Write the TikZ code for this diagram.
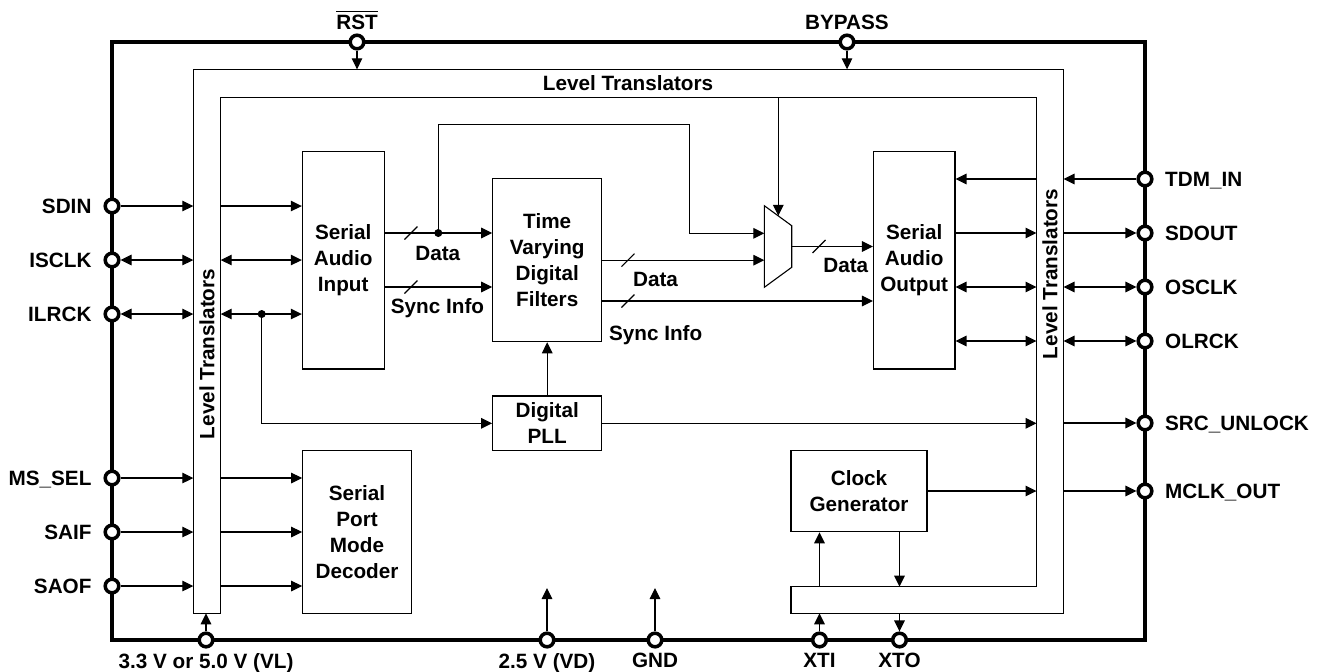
\documentclass[tikz,border=0pt]{standalone}
\usepackage{fontspec}
\setmainfont{Liberation Sans}
\usetikzlibrary{arrows.meta,positioning}

\begin{document}
\begin{tikzpicture}[
    x=0.5pt, y=-0.5pt,
    font=\fontsize{10.35pt}{12.9pt}\selectfont\bfseries,
    block/.style={draw, line width=0.55pt, inner sep=0pt, align=center},
    pin/.style={draw, circle, line width=1.75pt, fill=white, minimum size=6.8pt, inner sep=0pt},
    pinlabel/.style={inner sep=1pt, text depth=0pt},
    sig/.style={inner sep=1pt, text depth=0pt},
    jdot/.style={circle, fill, minimum size=4pt, inner sep=0pt},
    wire/.style={line width=0.55pt},
    arrow/.style={-{Triangle[length=5.5pt, width=5.3pt]}, line width=0.55pt},
    dblarrow/.style={{Triangle[length=5.5pt, width=5.3pt]}-{Triangle[length=5.5pt, width=5.3pt]}, line width=0.55pt},
    bus/.style={line width=1.9pt}
]
\useasboundingbox (0,0) rectangle (1321,671);

% Level translator ring
\coordinate (lto-nw) at (193.3,69.3);
\coordinate (lto-se) at (1063.5,613.3);
\coordinate (lti-nw) at (220.7,97.3);
\coordinate (lti-se) at (1036.5,586.7);
\coordinate (lts-sw) at (791,613.3);
\draw[wire] (lto-nw |- lto-se) -- (lto-nw) -| (lto-se) -- (lts-sw) |- (lti-se) |- (lti-nw) -- (lti-nw |- lto-se) -- cycle;

\node (lt-top) at (628,83.3) {Level Translators};
\node[rotate=90] (lt-left) at (207,354) {Level Translators};
\node[rotate=90] (lt-right) at (1050,274) {Level Translators};

% Blocks
\node[block, minimum width=40.85pt, minimum height=108.65pt] (sai) at (343.2,260.3) {Serial\\Audio\\Input};
\node[block, minimum width=54.5pt, minimum height=81.5pt] (tvdf) at (547.2,260.2) {Time\\Varying\\Digital\\Filters};
\node[block, minimum width=40.75pt, minimum height=108.65pt] (sao) at (914.2,260.3) {Serial\\Audio\\Output};
\node[block, minimum width=54.5pt, minimum height=27.35pt] (dpll) at (547.2,423.3) {Digital\\PLL};
\node[block, minimum width=54.35pt, minimum height=81.3pt] (spmd) at (357,532) {Serial\\Port\\Mode\\Decoder};
\node[block, minimum width=68pt, minimum height=40.8pt] (clkgen) at (859,491) {Clock\\Generator};

% Output multiplexer
\coordinate (mux-tl) at (764.3,205.7);
\coordinate (mux-tr) at (791.7,225.7);
\coordinate (mux-br) at (791.7,267.3);
\coordinate (mux-bl) at (764.3,287.3);
\draw[wire] (mux-tl) -- (mux-tr) -- (mux-br) -- (mux-bl) -- cycle;
\coordinate (mux-in1) at (764.3,233.3);
\coordinate (mux-in2) at (764.3,260.2);
\coordinate (mux-out) at (791.7,246.5);
\coordinate (mux-sel) at (778.3,215.9);

% Package outline and pins
\draw[bus] (112,42) rectangle (1145,640);

\node[pin] (sdin)      at (112,206) {};
\node[pin] (isclk)     at (112,260) {};
\node[pin] (ilrck)     at (112,314) {};
\node[pin] (mssel)     at (112,478) {};
\node[pin] (saif)      at (112,532) {};
\node[pin] (saof)      at (112,586) {};
\node[pin] (tdmin)     at (1145,179) {};
\node[pin] (sdout)     at (1145,233) {};
\node[pin] (osclk)     at (1145,287) {};
\node[pin] (olrck)     at (1145,341) {};
\node[pin] (srcunlock) at (1145,423) {};
\node[pin] (mclkout)   at (1145,491) {};
\node[pin] (rst)       at (357,42) {};
\node[pin] (bypass)    at (847,42) {};
\node[pin] (vl)        at (206,640) {};
\node[pin] (vd)        at (547,640) {};
\node[pin] (gnd)       at (655,640) {};
\node[pin] (xti)       at (819.5,640) {};
\node[pin] (xto)       at (899.5,640) {};

\node[pinlabel, left=4.8pt of sdin] {SDIN};
\node[pinlabel, left=4.8pt of isclk] {ISCLK};
\node[pinlabel, left=4.8pt of ilrck] {ILRCK};
\node[pinlabel, left=4.8pt of mssel] {MS\_SEL};
\node[pinlabel, left=4.8pt of saif] {SAIF};
\node[pinlabel, left=4.8pt of saof] {SAOF};
\node[pinlabel, right=4.6pt of tdmin] {TDM\_IN};
\node[pinlabel, right=4.6pt of sdout] {SDOUT};
\node[pinlabel, right=4.6pt of osclk] {OSCLK};
\node[pinlabel, right=4.6pt of olrck] {OLRCK};
\node[pinlabel, right=4.6pt of srcunlock] {SRC\_UNLOCK};
\node[pinlabel, right=4.6pt of mclkout] {MCLK\_OUT};
\node[pinlabel, above=1pt of rst] {$\overline{\hbox{RST}}$};
\node[pinlabel, above=1pt of bypass] {BYPASS};
\node[pinlabel, below=1.2pt of vl] {3.3 V or 5.0 V (VL)};
\node[pinlabel, below=1.2pt of vd] {2.5 V (VD)};
\node[pinlabel, below=1.2pt of gnd] {GND};
\node[pinlabel, below=1.2pt of xti] {XTI};
\node[pinlabel, below=1.2pt of xto] {XTO};

% Serial audio input side
\draw[arrow] (sdin) -- (sdin -| lto-nw);
\draw[dblarrow] (isclk) -- (isclk -| lto-nw);
\draw[dblarrow] (ilrck) -- (ilrck -| lto-nw);
\draw[arrow] (sdin -| lti-nw) -- (sdin -| sai.west);
\draw[dblarrow] (isclk -| lti-nw) -- (isclk -| sai.west);
\draw[dblarrow] (ilrck -| lti-nw) -- (ilrck -| sai.west);
\node[jdot] (jn2) at (261.7,314) {};
\draw[arrow] (jn2.center) |- (dpll.west);

% Mode select pins
\draw[arrow] (mssel) -- (mssel -| lto-nw);
\draw[arrow] (saif) -- (saif -| lto-nw);
\draw[arrow] (saof) -- (saof -| lto-nw);
\draw[arrow] (mssel -| lti-nw) -- (mssel -| spmd.west);
\draw[arrow] (saif -| lti-nw) -- (saif -| spmd.west);
\draw[arrow] (saof -| lti-nw) -- (saof -| spmd.west);

% Data path
\coordinate (sl1) at (411,233);
\coordinate (sl2) at (411,287);
\coordinate (sl3) at (628,260.2);
\coordinate (sl4) at (628,301);
\coordinate (sl5) at (819,246.5);
\node[jdot] (jn1) at (438.3,233) {};
\coordinate (fb) at (689.3,124.3);
\draw[arrow] (sai.east |- sl1) -- (sl1 -| tvdf.west);
\draw[arrow] (sai.east |- sl2) -- (sl2 -| tvdf.west);
\draw[arrow] (jn1.center) |- (fb) |- (mux-in1);
\draw[arrow] (tvdf.east |- sl3) -- (mux-in2);
\draw[arrow] (tvdf.east |- sl4) -- (sl4 -| sao.west);
\draw[arrow] (mux-out) -- (mux-out -| sao.west);
\draw[arrow] (mux-sel |- lti-nw) -- (mux-sel);
\draw[arrow] (dpll.north) -- (tvdf.south);
\draw[arrow] (dpll.east) -- (dpll.east -| lti-se);

\draw[wire] (sl1) +(-6.5,6.5) -- +(6.5,-6.5);
\draw[wire] (sl2) +(-6.5,6.5) -- +(6.5,-6.5);
\draw[wire] (sl3) +(-6.5,6.5) -- +(6.5,-6.5);
\draw[wire] (sl4) +(-6.5,6.5) -- +(6.5,-6.5);
\draw[wire] (sl5) +(-6.5,6.5) -- +(6.5,-6.5);

\node[sig] (data-in) at (437.8,253.2) {Data};
\node[sig] (sync-in) at (437.5,305.5) {Sync Info};
\node[sig] (data-flt) at (655.5,279.8) {Data};
\node[sig] (sync-flt) at (655.7,333.2) {Sync Info};
\node[sig] (data-mux) at (845.8,265.8) {Data};

% Serial audio output side
\draw[arrow] (tdmin) -- (tdmin -| lto-se);
\draw[arrow] (sdout -| lto-se) -- (sdout);
\draw[dblarrow] (osclk) -- (osclk -| lto-se);
\draw[dblarrow] (olrck) -- (olrck -| lto-se);
\draw[arrow] (srcunlock -| lto-se) -- (srcunlock);
\draw[arrow] (mclkout -| lto-se) -- (mclkout);
\draw[arrow] (tdmin -| lti-se) -- (tdmin -| sao.east);
\draw[arrow] (sdout -| sao.east) -- (sdout -| lti-se);
\draw[dblarrow] (osclk -| sao.east) -- (osclk -| lti-se);
\draw[dblarrow] (olrck -| sao.east) -- (olrck -| lti-se);
\draw[arrow] (clkgen.east) -- (clkgen.east -| lti-se);

% Top and bottom pins
\coordinate (vd-end) at (547,588);
\coordinate (gnd-end) at (655,588);
\draw[arrow] (rst) -- (rst |- lto-nw);
\draw[arrow] (bypass) -- (bypass |- lto-nw);
\draw[arrow] (vl) -- (vl |- lto-se);
\draw[arrow] (vd) -- (vd-end);
\draw[arrow] (gnd) -- (gnd-end);
\draw[arrow] (xti) -- (xti |- lto-se);
\draw[arrow] (xto |- lto-se) -- (xto);
\draw[arrow] (xti |- lti-se) -- (xti |- clkgen.south);
\draw[arrow] (xto |- clkgen.south) -- (xto |- lti-se);

\end{tikzpicture}
\end{document}
